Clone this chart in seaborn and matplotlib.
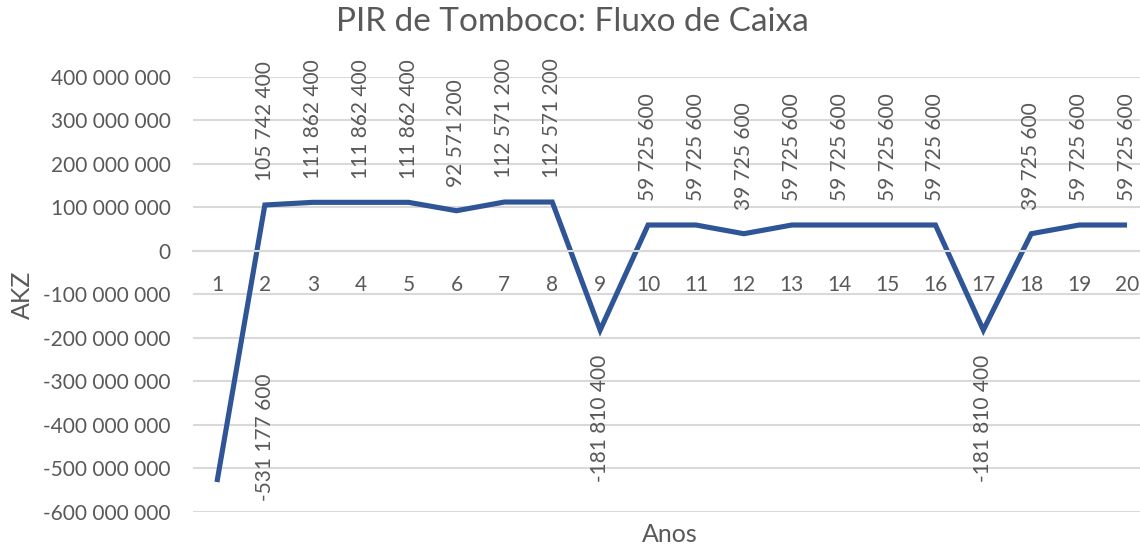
import matplotlib
matplotlib.use("Agg")
import matplotlib.pyplot as plt
import seaborn as sns
import pandas as pd

# Cash flow per year (AKZ)
anos = list(range(1, 21))
fluxo = [-531177600, 105742400, 111862400, 111862400, 111862400,
         92571200, 112571200, 112571200, -181810400, 59725600,
         59725600, 39725600, 59725600, 59725600, 59725600,
         59725600, -181810400, 39725600, 59725600, 59725600]
y_ticks = list(range(-600000000, 400000001, 100000000))

titulo = "PIR de Tomboco: Fluxo de Caixa"
eixo_y = "AKZ"
eixo_x = "Anos"

sns.set_theme(style="white")
plt.rcParams["font.family"] = ["Lato", "DejaVu Sans"]

TEXT = "#595959"
GRID = "#D9D9D9"
LINE = "#2F5597"
FS = 15

df = pd.DataFrame({"ano": anos, "fluxo": fluxo})

W, H = 1140, 550
fig = plt.figure(figsize=(W / 100, H / 100), dpi=100)
left, right, top, bottom = 193, 1140, 77, 512
ax = fig.add_axes([left / W, 1 - bottom / H, (right - left) / W, (bottom - top) / H])

sns.lineplot(data=df, x="ano", y="fluxo", ax=ax, color=LINE, linewidth=3.7,
             solid_joinstyle="miter", solid_capstyle="butt")

ax.set_xlim(0.5, 0.5 + (right - left) / 47.9)
ax.set_ylim(y_ticks[0], y_ticks[-1])

ax.set_yticks(y_ticks)
ax.set_yticklabels([f"{v:,.0f}".replace(",", " ") for v in y_ticks])
ax.set_xticks(anos)
ax.set_xticklabels([str(a) for a in anos])

ax.grid(axis="y", color=GRID, linewidth=1.5)
ax.set_axisbelow(True)
for s in ("top", "right", "left"):
    ax.spines[s].set_visible(False)
ax.spines["bottom"].set_position(("data", 0))
ax.spines["bottom"].set_color(GRID)
ax.spines["bottom"].set_linewidth(1.5)

ax.tick_params(axis="y", length=0, pad=16, labelsize=FS, labelcolor=TEXT)
ax.tick_params(axis="x", length=0, pad=17, labelsize=FS, labelcolor=TEXT)

ax.set_ylabel(eixo_y, fontsize=18, color=TEXT)
ax.yaxis.set_label_coords((22 - left) / (right - left), 0.5)
ax.yaxis.label.set_va("center")
ax.set_xlabel(eixo_x, fontsize=18, color=TEXT)
ax.xaxis.label.set_va("center")
ax.xaxis.set_label_coords((670 - left) / (right - left), (bottom - 534) / (bottom - top))

# Rotated value labels: above positive points, below negative ones
for i, (a, v) in enumerate(zip(anos, fluxo)):
    txt = f"{v:,.0f}".replace(",", " ")
    if i == 0:
        ax.annotate(txt, (a, v), xytext=(34.5, 78), textcoords="offset points",
                    rotation=90, ha="center", va="top", fontsize=FS, color=TEXT)
    elif v >= 0:
        ax.annotate(txt, (a, v), xytext=(0, 17), textcoords="offset points",
                    rotation=90, ha="center", va="bottom", fontsize=FS, color=TEXT)
    else:
        ax.annotate(txt, (a, v), xytext=(0, -18), textcoords="offset points",
                    rotation=90, ha="center", va="top", fontsize=FS, color=TEXT)

fig.text(572 / W, 1 - 22 / H, titulo, ha="center", va="center", fontsize=24, color=TEXT)

fig.savefig("out.png", dpi=100, facecolor="white")
